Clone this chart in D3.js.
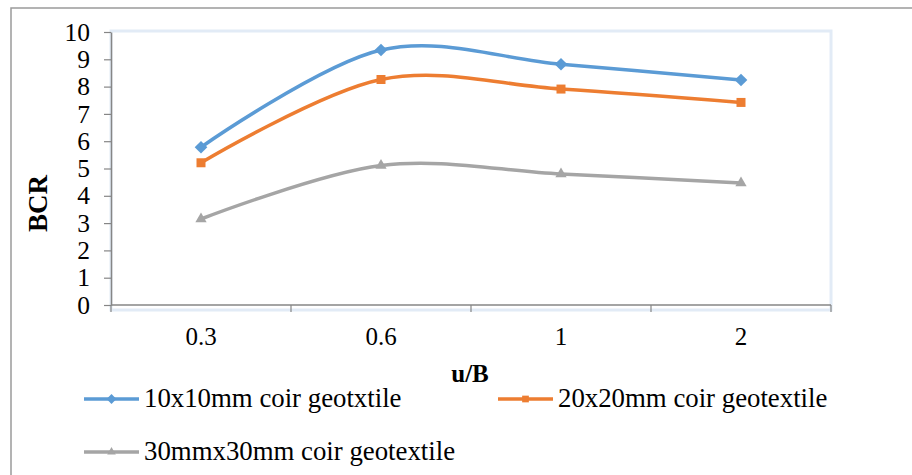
<!DOCTYPE html>
<html>
<head>
<meta charset="utf-8">
<script src="https://cdn.jsdelivr.net/npm/d3@7"></script>
<style>
  body { margin: 0; background: #fff; }
  text { font-family: "Liberation Serif", "Times New Roman", serif; fill: #000; }
</style>
</head>
<body>
<svg id="chart"></svg>
<script>
// Data
var categories = ["0.3", "0.6", "1", "2"];
var seriesNames = ["10x10mm coir geotxtile", "20x20mm coir geotextile", "30mmx30mm coir geotextile"];
var bcr10 = [5.78, 9.34, 8.82, 8.24];
var bcr20 = [5.21, 8.26, 7.91, 7.42];
var bcr30 = [3.15, 5.11, 4.80, 4.47];
var yTicks = [0, 1, 2, 3, 4, 5, 6, 7, 8, 9, 10];

var width = 912, height = 475;
var margin = { left: 111, right: 81, top: 32, bottom: 170 };
var colors = ["#5b9bd5", "#ed7d31", "#a5a5a5"];
var symbols = ["diamond", "square", "triangle"];

var svg = d3.select("#chart").attr("width", width).attr("height", height);

// outer chart border (only left and top fall inside the picture)
svg.append("rect")
    .attr("x", 11).attr("y", 8)
    .attr("width", 960).attr("height", 520)
    .style("fill", "none").style("stroke", "#9a9a9a").style("stroke-width", 1.5);

var x = d3.scaleBand()
    .domain(categories)
    .range([margin.left, width - margin.right])
    .paddingInner(0).paddingOuter(0);

var y = d3.scaleLinear()
    .domain([0, 10])
    .range([height - margin.bottom, margin.top]);

// plot area with a faint blue edge
svg.append("rect")
    .attr("x", x.range()[0]).attr("y", y(10) - 1)
    .attr("width", x.range()[1] - x.range()[0]).attr("height", y(0) - y(10) + 6)
    .style("fill", "#fff").style("stroke", "#e2ebf6").style("stroke-width", 3);

// y axis
var yAxis = svg.append("g")
    .attr("transform", "translate(" + x.range()[0] + ",0)")
    .call(d3.axisLeft(y).tickValues(yTicks).tickSize(7).tickSizeOuter(0).tickPadding(14));
yAxis.attr("font-family", null);
yAxis.select(".domain").style("stroke", "#868686").style("stroke-width", 1.5);
yAxis.selectAll(".tick line").style("stroke", "#868686").style("stroke-width", 1.2);
yAxis.selectAll("text").style("font-size", "25.5px").attr("fill", "#000");

// x axis: ticks sit between categories
var xAxis = svg.append("g").attr("transform", "translate(0," + y(0) + ")");
xAxis.append("line")
    .attr("x1", x.range()[0]).attr("x2", x.range()[1])
    .style("stroke", "#868686").style("stroke-width", 1.5);
var bounds = categories.map(function (c) { return x(c); }).concat([x.range()[1]]);
xAxis.selectAll("line.tick").data(bounds).enter().append("line")
    .attr("class", "tick")
    .attr("x1", function (d) { return d; }).attr("x2", function (d) { return d; })
    .attr("y1", 0).attr("y2", 7)
    .style("stroke", "#868686").style("stroke-width", 1.2);
xAxis.selectAll("text").data(categories).enter().append("text")
    .attr("x", function (d) { return x(d) + x.bandwidth() / 2; })
    .attr("y", 40)
    .attr("text-anchor", "middle")
    .style("font-size", "25px")
    .text(function (d) { return d; });

// axis titles
svg.append("text")
    .attr("transform", "translate(47," + (y(5) + 35) + ")rotate(-90)")
    .attr("text-anchor", "middle")
    .style("font-size", "27px").style("font-weight", "bold")
    .text("BCR");
svg.append("text")
    .attr("x", 470).attr("y", 382)
    .attr("text-anchor", "middle")
    .style("font-size", "25px").style("font-weight", "bold")
    .text("u/B");

// series
var series = [bcr10, bcr20, bcr30];
var line = d3.line()
    .x(function (d, i) { return x(categories[i]) + x.bandwidth() / 2; })
    .y(function (d) { return y(d); })
    .curve(d3.curveCardinal.tension(0));

function markerPath(kind, s) {
    if (kind === "triangle") return d3.symbol(d3.symbolTriangle, s)();
    return d3.symbol(d3.symbolSquare, s)();
}
var markerSizes = [80, 81, 55];
var legendSizes = [48, 45, 32];

series.forEach(function (vals, k) {
    svg.append("path")
        .datum(vals)
        .attr("d", line)
        .style("fill", "none")
        .style("stroke", colors[k])
        .style("stroke-width", 3.5)
        .style("stroke-linecap", "round");

    svg.selectAll("path.m" + k).data(vals).enter().append("path")
        .attr("class", "m" + k)
        .attr("d", markerPath(symbols[k], markerSizes[k]))
        .attr("transform", function (d, i) {
            return "translate(" + (x(categories[i]) + x.bandwidth() / 2) + "," + y(d) + ")" +
                (symbols[k] === "diamond" ? "rotate(45)" : "");
        })
        .style("fill", colors[k]);
});

// legend
var legendPos = [[84, 399], [498, 399], [84, 452]];
seriesNames.forEach(function (name, k) {
    var lg = svg.append("g").attr("transform", "translate(" + legendPos[k][0] + "," + legendPos[k][1] + ")");
    lg.append("line")
        .attr("x1", 0).attr("x2", 55)
        .style("stroke", colors[k]).style("stroke-width", 3.5);
    lg.append("path")
        .attr("d", markerPath(symbols[k], legendSizes[k]))
        .attr("transform", "translate(27.5,0)" + (symbols[k] === "diamond" ? "rotate(45)" : ""))
        .style("fill", colors[k]);
    lg.append("text")
        .attr("x", 60).attr("y", 8)
        .style("font-size", "26.8px")
        .text(name);
});
</script>
</body>
</html>
